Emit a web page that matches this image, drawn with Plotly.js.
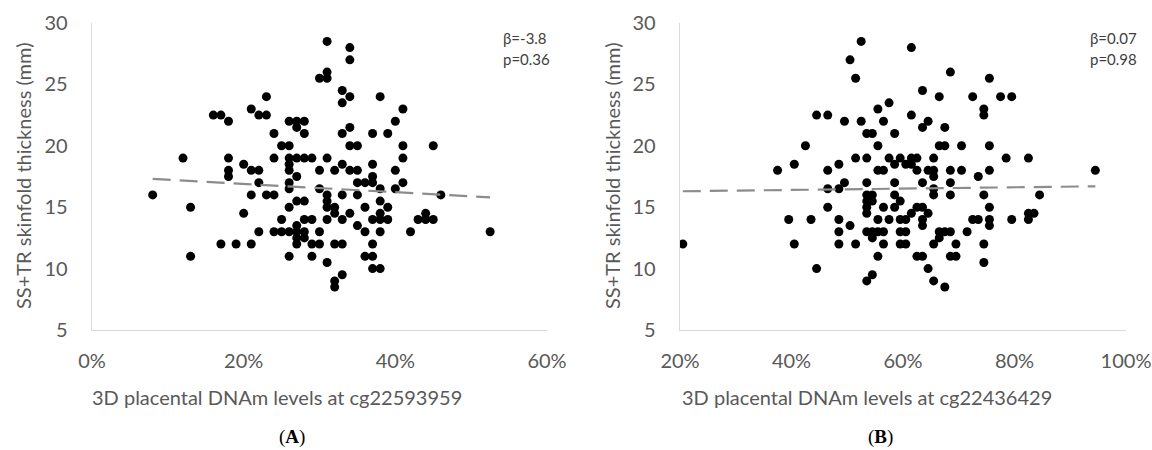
<!DOCTYPE html>
<html><head><meta charset="utf-8">
<script src="https://cdn.plot.ly/plotly-3.0.1.min.js"></script>
<style>html,body{margin:0;padding:0;background:#fff}#chart{width:1152px;height:450px}</style>
</head><body><div id="chart"></div>
<script>
// Panel A: cg22593959 (percent) vs SS+TR skinfold thickness (mm)
const xA = [8,12,13,13,16,17,18,18,18,18,17,19,21,20,20,21,23,22,23,21,22,22,21,23,24,22,24,25,26,27,28,30,
  24,25,26,24,26,27,28,29,26,27,28,27,28,26,26,27,26,26,30,30,26,27,28,25,28,29,27,27,28,27,29,30,26,29,31,
  31,34,34,31,30,31,33,34,33,38,41,40,34,33,37,39,34,35,41,41,31,32,33,34,35,37,37,40,41,35,36,37,40,33,35,38,
  31,31,31,32,32,36,38,39,34,31,33,37,38,38,39,35,36,38,42,43,32,33,37,36,37,37,38,33,32,32,
  45,46,44,44,45,52.5];
const yA = [16,19,15,11,22.5,22.5,22,19,18,17.5,12,12,12,14.5,18.5,23,24,22.5,22.5,18,18,17,16,16,16,13,13,13,13,13,13,13,
  21,20,20,19,19,19,19,19,22,22,22,21.5,21,18.5,18,17.5,17,16.5,18,16.5,15,15.5,15.5,14,14,14,13.5,12.5,12.5,12,12,12,11,11,10.5,
  28.5,28,27,26,25.5,25.5,24.5,24,23.5,24,23,22,21.5,21,21,21,20,20,20,19,19,18,18.5,18,18,18.5,17.5,18,17,17,17,17,16.5,16,16,16.5,
  16,15.5,15,15,14.5,15,15.5,15,14.5,14,14,14,14.5,14,14,13.5,13,13,13,14,12,12,12,11,11,10,10,9.5,9,8.5,
  20,16,14.5,14,14,13];
const trendAx = [8, 52.5];
const trendAy = [17.3, 15.8];

// Panel B: cg22436429 (percent) vs SS+TR skinfold thickness (mm)
const xB = [20.5,37.5,40.5,42.5,44.5,46.5,39.5,43.5,40.5,44.5,46.5,46.5,46.5,48.5,48.5,49.5,48.5,48.5,48.5,50.5,51.5,
  50.5,51.5,52.5,49.5,52.5,51.5,53.5,53.5,54.5,55.5,57.5,56.5,55.5,55.5,56.5,53.5,53.5,54.5,53.5,54.5,53.5,53.5,
  55.5,57.5,56.5,53.5,54.5,55.5,56.5,54.5,56.5,55.5,53.5,54.5,58.5,58.5,61.5,68.5,75.5,63.5,66.5,72.5,74.5,74.5,
  61.5,64.5,63.5,67.5,66.5,67.5,70.5,75.5,57.5,58.5,59.5,60.5,61.5,62.5,61.5,65.5,62.5,64.5,65.5,65.5,68.5,70.5,
  73.5,75.5,63.5,65.5,65.5,68.5,68.5,74.5,58.5,59.5,58.5,62.5,63.5,61.5,64.5,59.5,60.5,63.5,63.5,72.5,73.5,75.5,
  75.5,75.5,59.5,60.5,66.5,67.5,68.5,71.5,59.5,60.5,65.5,66.5,69.5,74.5,62.5,63.5,68.5,69.5,74.5,64.5,65.5,67.5,
  77.5,79.5,78.5,82.5,94.5,84.5,79.5,82.5,83.5,82.5];
const yB = [12,18,18.5,20,22.5,22.5,14,14,12,10,18,16.5,15,18.5,16.5,17,14,13,12,13.5,12,
  27,25.5,28.5,22,22,19,19,21,21,23,23.5,22,20,18,18,17,16,16,15.5,15.5,15,14.5,
  14,14,15,13,13,13,13,12.5,12,11,9,9.5,21,17,28,26,25.5,24.5,24,24,23,22.5,
  22.5,22,21.5,21.5,20,20,20,20,19,18.5,19,18.5,19,19,18.5,19,18,18,18,17.5,18,18,
  17.5,18,17,16.5,16,17,16,16,16,15.5,15,15,15,14.5,14.5,14,14,14,13.5,14,14,15,
  14,13.5,13,13,13,13,13,13,12,12,12,12.5,12,12,11,11,11,11,10.5,10,9,8.5,
  24,24,19,19,18,16,14,14.5,14.5,14];
const trendBx = [20.5, 94.5];
const trendBy = [16.3, 16.7];

const xTicksA = [0,20,40,60];
const xTickTextA = ['0%','20%','40%','60%'];
const xTicksB = [20,40,60,80,100];
const xTickTextB = ['20%','40%','60%','80%','100%'];
const yTicks = [5,10,15,20,25,30];
const yTitle = 'SS+TR skinfold thickness (mm)';
const xTitleA = '3D placental DNAm levels at cg22593959';
const xTitleB = '3D placental DNAm levels at cg22436429';
const statsA = ['β=-3.8','p=0.36'];
const statsB = ['β=0.07','p=0.98'];

const W = 1152, H = 450;
const px = v => v / W, py = v => 1 - v / H;
const FONT = 'Lato, "Open Sans", sans-serif';
const tickFont = {family: FONT, size: 20, color: '#595959'};
const titleFont = {family: FONT, size: 20, color: '#595959'};
const marker = {color: '#000', size: 9, line: {width: 0}};
const trendLine = {color: '#8c8c8c', width: 2.2, dash: '18px,9px'};

const data = [
  {x: xA, y: yA, type: 'scatter', mode: 'markers', marker: marker, xaxis: 'x', yaxis: 'y', hoverinfo: 'x+y'},
  {x: trendAx, y: trendAy, type: 'scatter', mode: 'lines', line: trendLine, xaxis: 'x', yaxis: 'y'},
  {x: xB, y: yB, type: 'scatter', mode: 'markers', marker: marker, xaxis: 'x2', yaxis: 'y2', hoverinfo: 'x+y'},
  {x: trendBx, y: trendBy, type: 'scatter', mode: 'lines', line: trendLine, xaxis: 'x2', yaxis: 'y2'}
];

const yDom = [py(330), py(23)];
const axisCommon = {showline: true, linecolor: '#d9d9d9', linewidth: 1.3, showgrid: false, zeroline: false,
  ticks: '', tickfont: tickFont, fixedrange: true, ticklabeloverflow: 'allow'};

const layout = {
  width: W, height: H, margin: {l: 0, r: 0, t: 0, b: 0},
  paper_bgcolor: '#fff', plot_bgcolor: '#fff', showlegend: false,
  xaxis: Object.assign({}, axisCommon, {domain: [px(92), px(547)], range: [0, 60], tickmode: 'array', tickvals: xTicksA, ticktext: xTickTextA, anchor: 'y', ticklabelstandoff: 13}),
  yaxis: Object.assign({}, axisCommon, {domain: yDom, range: [5, 30], tickmode: 'array', tickvals: yTicks, anchor: 'x', ticklabelstandoff: 19}),
  xaxis2: Object.assign({}, axisCommon, {domain: [px(680), px(1126)], range: [20, 100], tickmode: 'array', tickvals: xTicksB, ticktext: xTickTextB, anchor: 'y2', ticklabelstandoff: 13}),
  yaxis2: Object.assign({}, axisCommon, {domain: yDom, range: [5, 30], tickmode: 'array', tickvals: yTicks, anchor: 'x2', ticklabelstandoff: 19}),
  annotations: [
    {text: yTitle, xref: 'paper', yref: 'paper', x: px(23), y: py(176), textangle: -90, showarrow: false, xanchor: 'center', yanchor: 'middle', font: titleFont},
    {text: yTitle, xref: 'paper', yref: 'paper', x: px(612), y: py(176), textangle: -90, showarrow: false, xanchor: 'center', yanchor: 'middle', font: titleFont},
    {text: xTitleA, xref: 'paper', yref: 'paper', x: px(277), y: py(397), showarrow: false, xanchor: 'center', yanchor: 'middle', font: titleFont},
    {text: xTitleB, xref: 'paper', yref: 'paper', x: px(867), y: py(397), showarrow: false, xanchor: 'center', yanchor: 'middle', font: titleFont},
    {text: '(<b>A</b>)', xref: 'paper', yref: 'paper', x: px(292), y: py(437), showarrow: false, xanchor: 'center', yanchor: 'middle', font: {family: '"Liberation Serif", serif', size: 19, color: '#000'}},
    {text: '(<b>B</b>)', xref: 'paper', yref: 'paper', x: px(880), y: py(437), showarrow: false, xanchor: 'center', yanchor: 'middle', font: {family: '"Liberation Serif", serif', size: 19, color: '#000'}},
    {text: statsA[0], xref: 'paper', yref: 'paper', x: px(501), y: py(38), showarrow: false, xanchor: 'left', yanchor: 'middle', font: {family: FONT, size: 15, color: '#404040'}},
    {text: statsA[1], xref: 'paper', yref: 'paper', x: px(501), y: py(59), showarrow: false, xanchor: 'left', yanchor: 'middle', font: {family: FONT, size: 15, color: '#404040'}},
    {text: statsB[0], xref: 'paper', yref: 'paper', x: px(1088), y: py(38), showarrow: false, xanchor: 'left', yanchor: 'middle', font: {family: FONT, size: 15, color: '#404040'}},
    {text: statsB[1], xref: 'paper', yref: 'paper', x: px(1088), y: py(59), showarrow: false, xanchor: 'left', yanchor: 'middle', font: {family: FONT, size: 15, color: '#404040'}}
  ]
};

Plotly.newPlot('chart', data, layout, {displayModeBar: false, staticPlot: true});
</script></body></html>
